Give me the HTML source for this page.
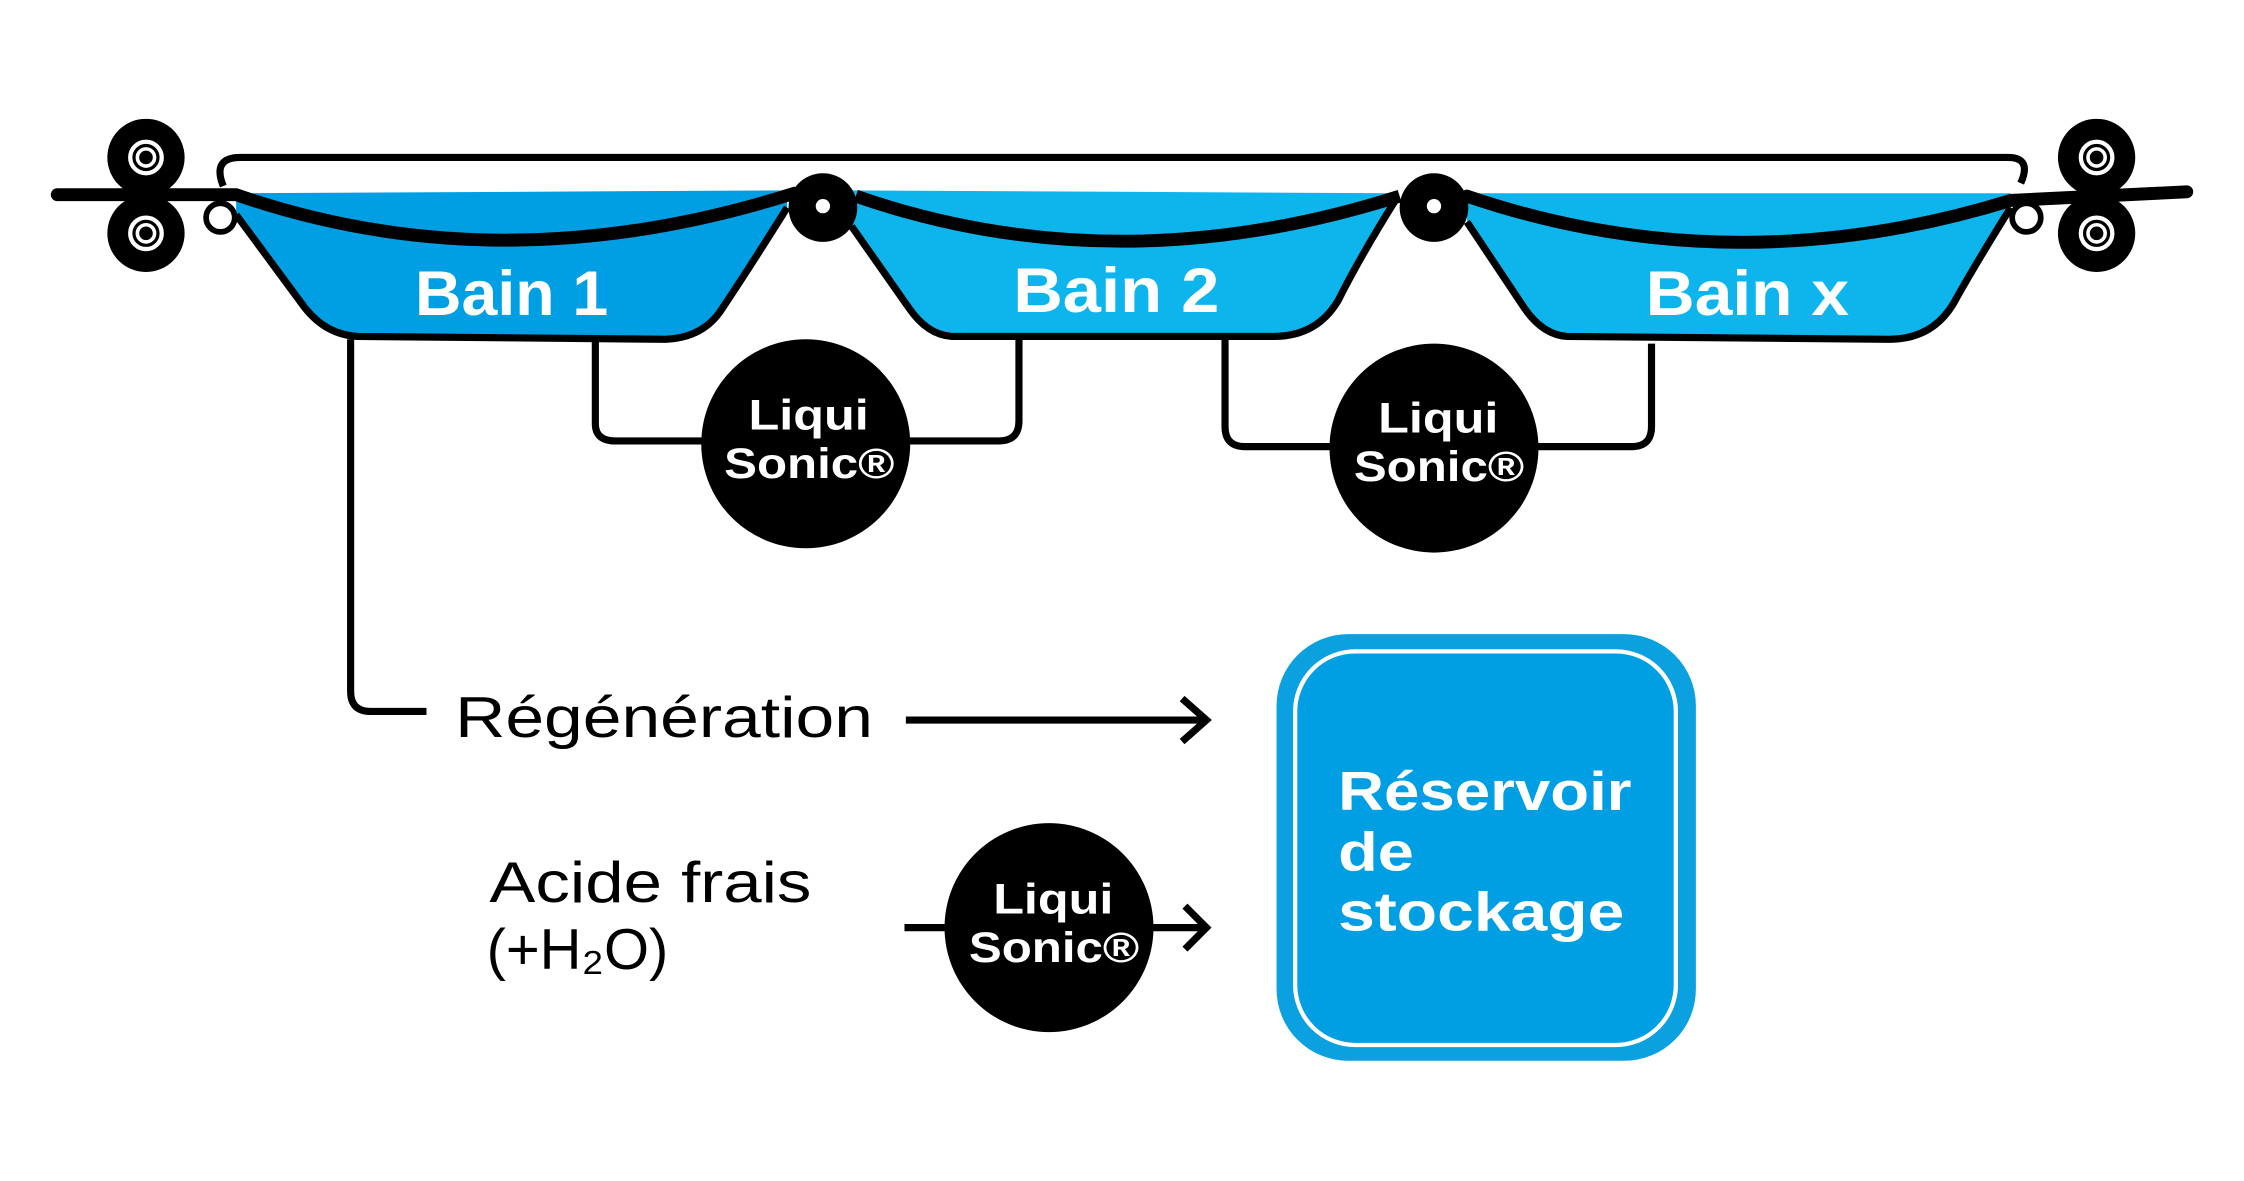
<!DOCTYPE html>
<html><head><meta charset="utf-8"><style>html,body{margin:0;padding:0;background:#fff}svg{display:block}</style></head><body>
<svg width="2244" height="1181" viewBox="0 0 1568 825" preserveAspectRatio="none" xmlns="http://www.w3.org/2000/svg" font-family="Liberation Sans, sans-serif">
<rect width="1568" height="825" fill="#fff"/>
<!-- baths fill -->
<path d="M165,135 L550,133 L550,145 Q525,185 505,215 Q492,236 465,237 L250,235 Q228,234 213,215 L165,150 Z" fill="#009FE3"/>
<path d="M595,133 L975,135 Q950,180 935,210 Q920,235 890,235 L665,235 Q648,234 635,215 L595,158 Z" fill="#0EB5EC"/>
<path d="M1025,135 L1405,135 L1405,145 Q1380,185 1365,212 Q1350,237 1320,237 L1095,235 Q1078,234 1065,215 L1025,155 Z" fill="#0EB5EC"/>
<g fill="none" stroke="#000" stroke-width="5">
<path d="M550,145 Q525,185 505,215 Q492,236 465,237 L250,235 Q228,234 213,215 L165,150"/>
<path d="M975,140 Q950,180 935,210 Q920,235 890,235 L665,235 Q648,234 635,215 L595,158"/>
<path d="M1405,145 Q1380,185 1365,212 Q1350,237 1320,237 L1095,235 Q1078,234 1065,215 L1025,155"/>
</g>
<!-- frame -->
<path d="M156,130 Q148,110 168,110 L1403,110 Q1420,110 1412,128" fill="none" stroke="#000" stroke-width="5"/>
<!-- rope -->
<path d="M40,136 L165,136 Q350,200 555,135" fill="none" stroke="#000" stroke-width="9" stroke-linecap="round"/>
<path d="M598,137 Q780,200 978,137" fill="none" stroke="#000" stroke-width="9"/>
<path d="M1025,137 Q1210,200 1405,140 L1528,134" fill="none" stroke="#000" stroke-width="9" stroke-linecap="round"/>
<!-- rollers -->
<g fill="#000">
<circle cx="102" cy="110" r="27"/><circle cx="102" cy="163" r="27"/>
<circle cx="1465" cy="110" r="27"/><circle cx="1465" cy="163" r="27"/>
</g>
<g fill="none" stroke="#fff" stroke-width="3">
<circle cx="102" cy="110" r="11"/><circle cx="102" cy="163" r="11"/>
<circle cx="1465" cy="110" r="11"/><circle cx="1465" cy="163" r="11"/>
</g>
<g fill="none" stroke="#fff" stroke-width="2.5">
<circle cx="102" cy="110" r="6"/><circle cx="102" cy="163" r="6"/>
<circle cx="1465" cy="110" r="6"/><circle cx="1465" cy="163" r="6"/>
</g>
<circle cx="575" cy="145" r="24" fill="#000"/><circle cx="575" cy="144" r="5" fill="#fff"/>
<circle cx="1002" cy="145" r="24" fill="#000"/><circle cx="1002" cy="144" r="5" fill="#fff"/>
<circle cx="154" cy="152" r="10" fill="#fff" stroke="#000" stroke-width="4"/>
<circle cx="1416" cy="152" r="10" fill="#fff" stroke="#000" stroke-width="4"/>
<!-- bath labels -->
<g fill="#fff" font-weight="bold" font-size="44" lengthAdjust="spacingAndGlyphs">
<text x="290" y="220" textLength="135" lengthAdjust="spacingAndGlyphs">Bain 1</text>
<text x="708" y="218" textLength="144" lengthAdjust="spacingAndGlyphs">Bain 2</text>
<text x="1150" y="220" textLength="142" lengthAdjust="spacingAndGlyphs">Bain x</text>
</g>
<!-- pipes -->
<g fill="none" stroke="#000" stroke-width="5">
<path d="M416,237 L416,296 Q416,308 430,308 L495,308"/>
<path d="M630,308 L698,308 Q712,308 712,294 L712,237"/>
<path d="M856,237 L856,298 Q856,312 870,312 L935,312"/>
<path d="M1070,312 L1140,312 Q1154,312 1154,298 L1154,240"/>
<path d="M245,237 L245,483 Q245,497 259,497 L298,497"/>
<path d="M633,503 L843,503 M826,488 L843,503 L826,518"/>
<path d="M632,648 L665,648 M800,648 L843,648 M828,633 L843,648 L828,663"/>
</g>
<!-- LiquiSonic -->
<g fill="#000"><circle cx="563" cy="310" r="73"/><circle cx="1002" cy="313" r="73"/><circle cx="733" cy="648" r="73"/></g>
<g fill="#fff" font-weight="bold" font-size="30">
<text x="523" y="300" textLength="84" lengthAdjust="spacingAndGlyphs">Liqui</text><text x="506" y="334" textLength="119" lengthAdjust="spacingAndGlyphs">Sonic®</text>
<text x="963" y="302" textLength="84" lengthAdjust="spacingAndGlyphs">Liqui</text><text x="946" y="336" textLength="119" lengthAdjust="spacingAndGlyphs">Sonic®</text>
<text x="694" y="638" textLength="84" lengthAdjust="spacingAndGlyphs">Liqui</text><text x="677" y="672" textLength="119" lengthAdjust="spacingAndGlyphs">Sonic®</text>
</g>
<!-- texts -->
<g fill="#000" font-size="40">
<text x="318" y="515" textLength="292" lengthAdjust="spacingAndGlyphs">Régénération</text>
<text x="342" y="630" textLength="225" lengthAdjust="spacingAndGlyphs">Acide frais</text>
<text x="340" y="677" textLength="127" lengthAdjust="spacingAndGlyphs">(+H₂O)</text>
</g>
<!-- reservoir -->
<rect x="892" y="443" width="293" height="298" rx="50" fill="#0BA0E0"/>
<rect x="905" y="455" width="266" height="275" rx="42" fill="#009FE3" stroke="#fff" stroke-width="3"/>
<g fill="#fff" font-weight="bold" font-size="38">
<text x="935" y="566" textLength="205" lengthAdjust="spacingAndGlyphs">Réservoir</text>
<text x="935" y="608" textLength="53" lengthAdjust="spacingAndGlyphs">de</text>
<text x="935" y="650" textLength="200" lengthAdjust="spacingAndGlyphs">stockage</text>
</g>
</svg>
</body></html>
